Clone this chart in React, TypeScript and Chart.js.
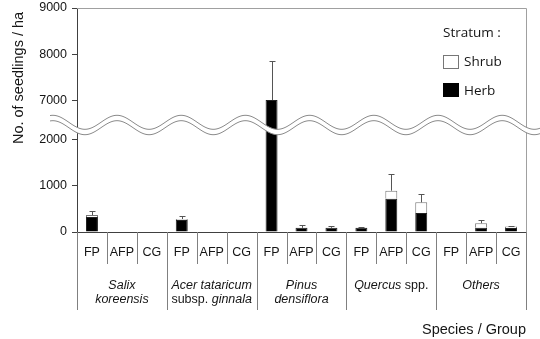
import React, { useEffect, useRef } from 'react';
import { Chart, registerables, LinearScale } from 'chart.js';

Chart.register(...registerables);

// ---------- data ----------
const categories = ['FP', 'AFP', 'CG', 'FP', 'AFP', 'CG', 'FP', 'AFP', 'CG', 'FP', 'AFP', 'CG', 'FP', 'AFP', 'CG'];
const herb = [325, 0, 0, 260, 0, 0, 7010, 90, 90, 90, 720, 410, 0, 90, 85];
const shrub = [40, 0, 0, 20, 0, 0, 0, 0, 0, 0, 172, 231, 0, 100, 35];
const errors = [80, 0, 0, 60, 0, 0, 840, 55, 50, 25, 355, 173, 0, 65, 15];
const yTicks = [0, 1000, 2000, 7000, 8000, 9000];
const breakLow = 2000;
const breakHigh = 7000;
// group labels: lines of [text, italic] segments
const groupLabels: [string, boolean][][][] = [
  [[['Salix', true]], [['koreensis', true]]],
  [[['Acer tataricum', true]], [['subsp. ', false], ['ginnala', true]]],
  [[['Pinus', true]], [['densiflora', true]]],
  [[['Quercus', true], [' spp.', false]]],
  [[['Others', true]]],
];
const legendTitle = 'Stratum :';
const yTitle = 'No. of seedlings / ha';
const xTitle = 'Species / Group';

// ---------- broken axis scale ----------
const GAP = 840;
function toDisplay(v: number) {
  if (v <= breakLow) return v;
  if (v >= breakHigh) return v - (breakHigh - breakLow) + GAP;
  return breakLow + ((v - breakLow) / (breakHigh - breakLow)) * GAP;
}
function fromDisplay(d: number) {
  if (d <= breakLow) return d;
  if (d >= breakLow + GAP) return d + (breakHigh - breakLow) - GAP;
  return breakLow + ((d - breakLow) / GAP) * (breakHigh - breakLow);
}

class BrokenLinearScale extends LinearScale {
  static id = 'brokenLinear';
  static defaults = { ...(LinearScale as any).defaults };
  getPixelForValue(value: number) {
    const dMin = toDisplay(this.min);
    const dMax = toDisplay(this.max);
    const t = (toDisplay(value) - dMin) / (dMax - dMin);
    return this.bottom - t * (this.bottom - this.top);
  }
  getValueForPixel(pixel: number) {
    const dMin = toDisplay(this.min);
    const dMax = toDisplay(this.max);
    const t = (this.bottom - pixel) / (this.bottom - this.top);
    return fromDisplay(dMin + t * (dMax - dMin));
  }
}
Chart.register(BrokenLinearScale as any);

const SANS = '"Liberation Sans", Arial, sans-serif';
const TEXT = '#151515';

const decor = {
  id: 'decor',
  afterDatasetsDraw(chart: any) {
    const ctx = chart.ctx;
    const xs = chart.scales.x;
    const ys = chart.scales.y;
    // error bars
    ctx.save();
    ctx.strokeStyle = '#555';
    ctx.lineWidth = 1;
    for (let i = 0; i < categories.length; i++) {
      if (!errors[i]) continue;
      const total = herb[i] + shrub[i];
      const x = Math.round(xs.getPixelForValue(i)) + 0.5;
      const y0 = ys.getPixelForValue(total);
      const y1 = Math.round(ys.getPixelForValue(total + errors[i])) + 0.5;
      ctx.beginPath();
      ctx.moveTo(x, y0);
      ctx.lineTo(x, y1);
      ctx.moveTo(x - 3, y1);
      ctx.lineTo(x + 3, y1);
      ctx.stroke();
    }
    ctx.restore();

    // wave break
    const yLow = ys.getPixelForValue(breakLow);
    const yHigh = ys.getPixelForValue(breakHigh);
    const c = (yLow + yHigh) / 2 + 5;
    const A = 7;
    const period = 64.2;
    const crest = 117;
    const off = 2.7;
    const x0 = 50;
    const x1 = chart.width;
    const w = (x: number) => -A * Math.cos((2 * Math.PI * (x - crest)) / period);
    ctx.save();
    ctx.beginPath();
    for (let x = x0; x <= x1; x++) {
      const y = c - off + w(x);
      if (x === x0) ctx.moveTo(x, y); else ctx.lineTo(x, y);
    }
    for (let x = x1; x >= x0; x--) ctx.lineTo(x, c + off + w(x));
    ctx.closePath();
    ctx.fillStyle = '#fff';
    ctx.fill();
    ctx.strokeStyle = '#8a8a8a';
    ctx.lineWidth = 1;
    for (const s of [-off, off]) {
      ctx.beginPath();
      for (let x = x0; x <= x1; x++) {
        const y = c + s + w(x);
        if (x === x0) ctx.moveTo(x, y); else ctx.lineTo(x, y);
      }
      ctx.stroke();
    }
    ctx.restore();
  },
  beforeDatasetsDraw(chart: any) {
    const ctx = chart.ctx;
    const { left, right, top, bottom } = chart.chartArea;
    ctx.save();
    ctx.strokeStyle = '#a0a0a0';
    ctx.lineWidth = 1;
    ctx.beginPath();
    ctx.moveTo(left, Math.round(top) + 0.5);
    ctx.lineTo(Math.round(right) + 0.5, Math.round(top) + 0.5);
    ctx.lineTo(Math.round(right) + 0.5, bottom);
    ctx.stroke();
    ctx.restore();
  },
  afterDraw(chart: any) {
    const ctx = chart.ctx;
    const xs = chart.scales.x;
    const { left, right, top, bottom } = chart.chartArea;
    const n = categories.length;
    const step = (right - left) / n;
    ctx.save();

    // separators below axis
    ctx.strokeStyle = '#808080';
    ctx.lineWidth = 1;
    for (let i = 0; i <= n; i++) {
      const x = Math.round(xs.getPixelForValue(i) - step / 2) + 0.5;
      const isGroup = i % 3 === 0;
      ctx.beginPath();
      ctx.moveTo(x, bottom);
      ctx.lineTo(x, isGroup ? bottom + 78 : bottom + 32);
      ctx.stroke();
    }

    // category labels
    ctx.fillStyle = TEXT;
    ctx.font = `12.5px ${SANS}`;
    ctx.textAlign = 'center';
    ctx.textBaseline = 'alphabetic';
    for (let i = 0; i < n; i++) {
      ctx.fillText(categories[i], xs.getPixelForValue(i), bottom + 24);
    }

    // group labels
    ctx.textAlign = 'left';
    groupLabels.forEach((lines, g) => {
      const cx = xs.getPixelForValue(g * 3 + 1);
      lines.forEach((segs, li) => {
        let total = 0;
        const widths = segs.map(([t, it]) => {
          ctx.font = `${it ? 'italic ' : ''}12.5px ${SANS}`;
          const mw = ctx.measureText(t).width;
          total += mw;
          return mw;
        });
        let x = cx - total / 2;
        const y = bottom + 57 + li * 14;
        segs.forEach(([t, it], k) => {
          ctx.font = `${it ? 'italic ' : ''}12.5px ${SANS}`;
          ctx.fillText(t, x, y);
          x += widths[k];
        });
      });
    });

    // x title
    ctx.font = `14.5px ${SANS}`;
    ctx.textAlign = 'right';
    ctx.fillText(xTitle, right, 334);

    // y title
    ctx.save();
    ctx.translate(19, 78);
    ctx.rotate(-Math.PI / 2);
    ctx.textAlign = 'center';
    ctx.textBaseline = 'middle';
    ctx.fillText(yTitle, 0, 0);
    ctx.restore();

    // legend
    const LF = '13.5px "Open Sans", sans-serif';
    ctx.font = LF;
    ctx.textAlign = 'left';
    ctx.textBaseline = 'alphabetic';
    ctx.fillStyle = TEXT;
    ctx.fillText(legendTitle, 443, 37);
    const ds = chart.data.datasets;
    // Shrub (white)
    ctx.fillStyle = '#fff';
    ctx.fillRect(443.5, 55.5, 15, 13);
    ctx.strokeStyle = '#777';
    ctx.strokeRect(443.5, 55.5, 15, 13);
    ctx.fillStyle = TEXT;
    ctx.fillText(ds[1].label, 464, 66);
    // Herb (black)
    ctx.fillStyle = '#000';
    ctx.fillRect(443, 83, 16, 14);
    ctx.fillStyle = TEXT;
    ctx.fillText(ds[0].label, 464, 94.5);
    ctx.restore();
  },
};

export default function App() {
  const ref = useRef<HTMLCanvasElement | null>(null);
  useEffect(() => {
    if (!ref.current) return;
    const chart = new Chart(ref.current, {
      type: 'bar',
      data: {
        labels: categories,
        datasets: [
          {
            label: 'Herb',
            data: herb,
            backgroundColor: '#000',
            borderColor: '#222',
            borderWidth: 1,
            barPercentage: 0.4,
            categoryPercentage: 1,
          },
          {
            label: 'Shrub',
            data: shrub,
            backgroundColor: '#fff',
            borderColor: '#777',
            borderWidth: 1,
            barPercentage: 0.4,
            categoryPercentage: 1,
          },
        ],
      },
      options: {
        animation: false,
        responsive: false,
        maintainAspectRatio: false,
        layout: { padding: { top: 8, right: 14, left: 0, bottom: 0 } },
        plugins: { legend: { display: false }, tooltip: { enabled: false } },
        scales: {
          x: {
            stacked: true,
            grid: { display: false },
            border: { display: true, color: '#404040' },
            ticks: { display: false },
            afterFit: (s: any) => { s.height = 107; s.paddingLeft = 0; s.paddingRight = 0; },
          },
          y: {
            type: 'brokenLinear' as any,
            stacked: true,
            min: 0,
            max: 9000,
            afterBuildTicks: (s: any) => { s.ticks = yTicks.map((v) => ({ value: v })); },
            grid: { drawOnChartArea: false, drawTicks: true, tickLength: 5, color: '#404040' },
            border: { display: true, color: '#404040' },
            ticks: {
              font: { family: SANS, size: 12.5 },
              color: TEXT,
              padding: 5,
              callback: (v: any) => String(v),
            },
            afterFit: (s: any) => { s.width = 77; s.paddingTop = 0; s.paddingBottom = 0; },
          },
        },
      },
      plugins: [decor],
    } as any);
    return () => chart.destroy();
  }, []);
  return (
    <div style={{ position: 'fixed', left: 0, top: 0, width: 540, height: 339, background: '#fff' }}>
      <canvas ref={ref} width={540} height={339} style={{ display: 'block' }} />
    </div>
  );
}
